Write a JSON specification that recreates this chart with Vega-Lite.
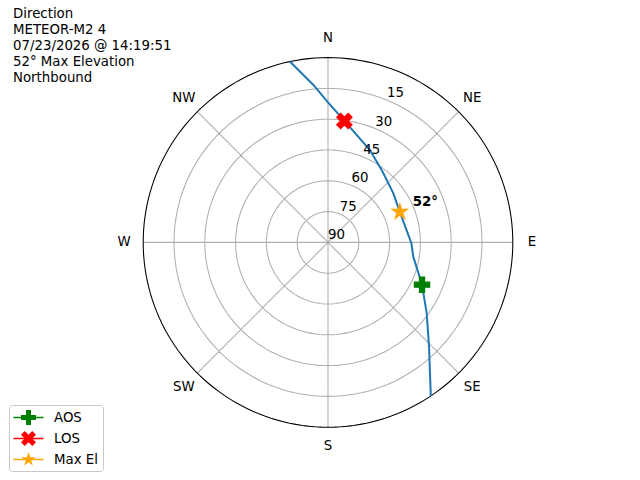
{
  "$schema": "https://vega.github.io/schema/vega-lite/v6.json",
  "description": "Polar sky plot of a METEOR-M2 4 pass: azimuth clockwise from north, elevation 90 at the centre.",
  "width": 640,
  "height": 480,
  "autosize": "none",
  "padding": 0,
  "background": "white",
  "title": {
    "text": ["Direction", "METEOR-M2 4", "07/23/2026 @ 14:19:51", "52° Max Elevation", "Northbound"],
    "anchor": "start",
    "frame": "group",
    "orient": "top",
    "dx": 13,
    "dy": 86,
    "offset": 2,
    "font": "DejaVu Sans",
    "fontSize": 13.33,
    "fontWeight": "normal",
    "lineHeight": 16,
    "color": "black"
  },
  "datasets": {
    "track": [
      {"t": 0, "az": 146.2, "el": 0},
      {"t": 1, "az": 135.9, "el": 19.3},
      {"t": 2, "az": 125.7, "el": 30.8},
      {"t": 3, "az": 114.2, "el": 39.8},
      {"t": 4, "az": 99.5, "el": 47.9},
      {"t": 5, "az": 90.6, "el": 49.4},
      {"t": 6, "az": 67.0, "el": 52.0},
      {"t": 7, "az": 53.1, "el": 50.2},
      {"t": 8, "az": 37.7, "el": 46.5},
      {"t": 9, "az": 24.4, "el": 40.6},
      {"t": 10, "az": 7.7, "el": 30.3},
      {"t": 11, "az": 0, "el": 21.8},
      {"t": 12, "az": -5.3, "el": 13.0},
      {"t": 13, "az": -11.9, "el": 0}
    ],
    "events": [
      {"event": "AOS", "az": 114.2, "el": 39.8, "label": ""},
      {"event": "LOS", "az": 7.7, "el": 30.3, "label": ""},
      {"event": "Max El", "az": 67.0, "el": 52.0, "label": "52°"}
    ],
    "rings": [
      {"ring": 15}, {"ring": 30}, {"ring": 45}, {"ring": 60}, {"ring": 75}, {"ring": 90}
    ],
    "compass": [
      {"dir": "N", "az": 0}, {"dir": "NE", "az": 45}, {"dir": "E", "az": 90}, {"dir": "SE", "az": 135},
      {"dir": "S", "az": 180}, {"dir": "SW", "az": 225}, {"dir": "W", "az": 270}, {"dir": "NW", "az": 315}
    ]
  },
  "projection": {
    "type": "azimuthalEquidistant",
    "rotate": [180, -90, 0],
    "reflectX": true,
    "scale": 117.65,
    "translate": [328, 242.4],
    "clipAngle": 90
  },
  "layer": [
    {
      "data": {"graticule": {"step": [45, 15], "extentMinor": [[-180, -1], [180, 90]]}},
      "mark": {"type": "geoshape", "filled": false, "stroke": "#b0b0b0", "strokeWidth": 1.07}
    },
    {
      "data": {"sphere": true},
      "mark": {"type": "geoshape", "filled": false, "stroke": "black", "strokeWidth": 1.07}
    },
    {
      "data": {"name": "track"},
      "mark": {"type": "line", "color": "#1f77b4", "strokeWidth": 2},
      "encoding": {
        "longitude": {"field": "az", "type": "quantitative"},
        "latitude": {"field": "el", "type": "quantitative"},
        "order": {"field": "t", "type": "quantitative"}
      }
    },
    {
      "data": {"name": "events"},
      "transform": [{"filter": "datum.event === 'AOS'"}],
      "mark": {"type": "point", "filled": true, "opacity": 1, "color": "green", "stroke": "green", "strokeWidth": 1.3, "size": 230,
        "shape": "M-1,-0.333L-0.333,-0.333L-0.333,-1L0.333,-1L0.333,-0.333L1,-0.333L1,0.333L0.333,0.333L0.333,1L-0.333,1L-0.333,0.333L-1,0.333Z"},
      "encoding": {
        "longitude": {"field": "az", "type": "quantitative"},
        "latitude": {"field": "el", "type": "quantitative"}
      }
    },
    {
      "data": {"name": "events"},
      "transform": [{"filter": "datum.event === 'LOS'"}],
      "mark": {"type": "point", "filled": true, "opacity": 1, "color": "red", "stroke": "red", "strokeWidth": 1.3, "size": 230,
        "shape": "M-0.5,-1L0,-0.5L0.5,-1L1,-0.5L0.5,0L1,0.5L0.5,1L0,0.5L-0.5,1L-1,0.5L-0.5,0L-1,-0.5Z"},
      "encoding": {
        "longitude": {"field": "az", "type": "quantitative"},
        "latitude": {"field": "el", "type": "quantitative"}
      }
    },
    {
      "data": {"name": "events"},
      "transform": [{"filter": "datum.event === 'Max El'"}],
      "mark": {"type": "point", "filled": true, "opacity": 1, "color": "orange", "stroke": "orange", "strokeWidth": 1.3, "size": 250,
        "shape": "M0,-1L0.225,-0.309L0.951,-0.309L0.363,0.118L0.588,0.809L0,0.382L-0.588,0.809L-0.363,0.118L-0.951,-0.309L-0.225,-0.309Z"},
      "encoding": {
        "longitude": {"field": "az", "type": "quantitative"},
        "latitude": {"field": "el", "type": "quantitative"}
      }
    },
    {
      "data": {"name": "events"},
      "transform": [{"filter": "datum.event === 'Max El'"}],
      "mark": {"type": "text", "align": "left", "baseline": "middle", "dx": 13, "dy": -10,
        "font": "DejaVu Sans", "fontSize": 13.33, "fontWeight": "bold", "color": "black"},
      "encoding": {
        "longitude": {"field": "az", "type": "quantitative"},
        "latitude": {"field": "el", "type": "quantitative"},
        "text": {"field": "label"}
      }
    },
    {
      "data": {"name": "events"},
      "mark": {"type": "point", "filled": true, "opacity": 0},
      "encoding": {
        "longitude": {"field": "az", "type": "quantitative"},
        "latitude": {"field": "el", "type": "quantitative"},
        "color": {
          "field": "event",
          "type": "nominal",
          "scale": {"domain": ["AOS", "LOS", "Max El"], "range": ["green", "red", "orange"]},
          "legend": {
            "title": null,
            "orient": "bottom-left",
            "offset": 9,
            "padding": 5,
            "symbolSize": 225,
            "symbolStrokeWidth": 0,
            "symbolOffset": 7,
            "labelOffset": 18,
            "labelFont": "DejaVu Sans",
            "labelFontSize": 13.33,
            "labelColor": "black",
            "rowPadding": 6,
            "strokeColor": "#c8c8c8",
            "fillColor": "white",
            "cornerRadius": 3,
            "encode": {
              "symbols": {"update": {"opacity": {"value": 1}, "fillOpacity": {"value": 1}}}
            }
          }
        },
        "shape": {
          "field": "event",
          "type": "nominal",
          "scale": {
            "domain": ["AOS", "LOS", "Max El"],
            "range": [
              "M-1,-0.333L-0.333,-0.333L-0.333,-1L0.333,-1L0.333,-0.333L1,-0.333L1,0.333L0.333,0.333L0.333,1L-0.333,1L-0.333,0.333L-1,0.333Z M-2,-0.1L2,-0.1L2,0.1L-2,0.1Z",
              "M-0.5,-1L0,-0.5L0.5,-1L1,-0.5L0.5,0L1,0.5L0.5,1L0,0.5L-0.5,1L-1,0.5L-0.5,0L-1,-0.5Z M-2,-0.1L2,-0.1L2,0.1L-2,0.1Z",
              "M0,-1L0.225,-0.309L0.951,-0.309L0.363,0.118L0.588,0.809L0,0.382L-0.588,0.809L-0.363,0.118L-0.951,-0.309L-0.225,-0.309Z M-2,-0.1L2,-0.1L2,0.1L-2,0.1Z"
            ]
          }
        }
      }
    },
    {
      "data": {"name": "rings"},
      "mark": {"type": "text", "align": "left", "baseline": "bottom", "font": "DejaVu Sans", "fontSize": 13.33, "color": "black"},
      "encoding": {
        "longitude": {"datum": 22.5},
        "latitude": {"field": "ring", "type": "quantitative"},
        "text": {"field": "ring", "type": "quantitative"}
      }
    },
    {
      "data": {"name": "compass"},
      "mark": {"type": "text", "align": "center", "baseline": "middle", "font": "DejaVu Sans", "fontSize": 13.33, "color": "black"},
      "encoding": {
        "longitude": {"field": "az", "type": "quantitative"},
        "latitude": {"datum": -9.35},
        "text": {"field": "dir"}
      }
    }
  ],
  "config": {
    "view": {"stroke": null}
  }
}
